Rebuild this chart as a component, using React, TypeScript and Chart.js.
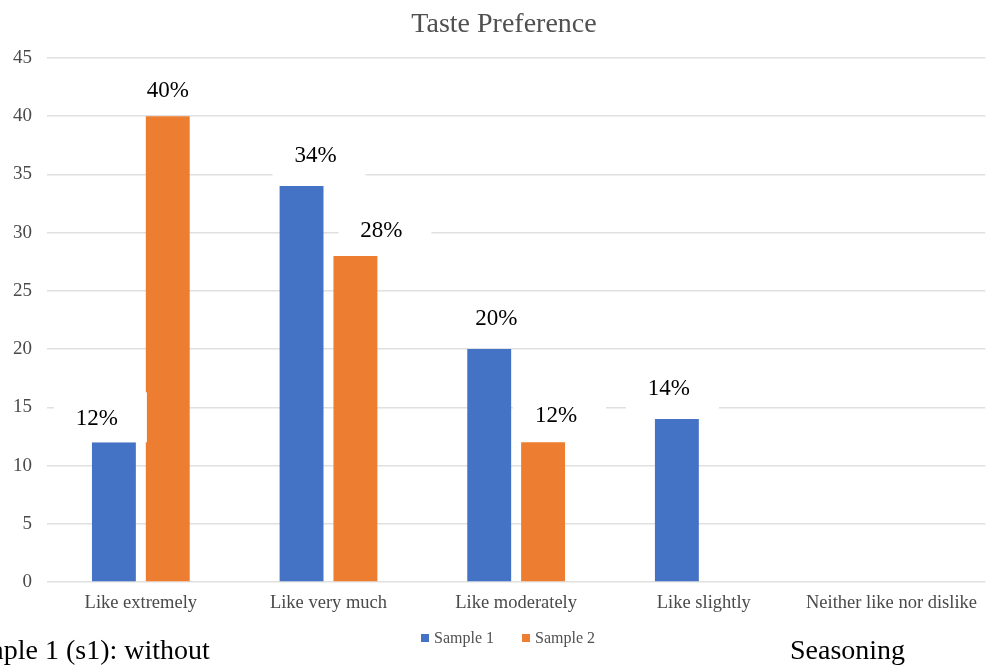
import React, { useEffect, useRef } from "react";
import { Chart, registerables } from "chart.js";

Chart.register(...registerables);

// Response categories on the hedonic scale
const categories = [
  "Like extremely",
  "Like very much",
  "Like moderately",
  "Like slightly",
  "Neither like nor dislike",
];

// Share of panelists (%) per category
const sample1 = [12, 34, 20, 14, 0];
const sample2 = [40, 28, 12, 0, 0];

const seriesNames = ["Sample 1", "Sample 2"];
const seriesColors = ["#4472C4", "#ED7D31"];

const chartTitle = "Taste Preference";
const yMax = 45;
const yStep = 5;

const SERIF = '"Liberation Serif", "Times New Roman", serif';

// Hand-placed label nudges (text centre relative to the bar's top centre)
const labelNudges = [
  [[-17, -24], [14, -31], [7, -31], [-8, -31], [0, -28]],
  [[0, -26], [26, -26], [13, -27], [0, -28], [0, -28]],
];

const decorPlugin = {
  id: "decor",
  afterDatasetsDraw(chart: any) {
    const ctx = chart.ctx as CanvasRenderingContext2D;
    ctx.save();
    // value labels in white boxes
    chart.data.datasets.forEach((ds: any, di: number) => {
      const meta = chart.getDatasetMeta(di);
      meta.data.forEach((bar: any, i: number) => {
        const v = ds.data[i];
        if (!v) return;
        const [dx, dy] = labelNudges[di][i];
        const cx = bar.x + dx;
        const cy = bar.y + dy;
        ctx.fillStyle = "#ffffff";
        ctx.fillRect(cx - 43, cy - 26, 93, 50);
        ctx.fillStyle = "#000000";
        ctx.font = `23px ${SERIF}`;
        ctx.textAlign = "center";
        ctx.textBaseline = "middle";
        ctx.fillText(`${v}%`, cx, cy + 1);
      });
    });
    ctx.restore();
  },
  afterDraw(chart: any) {
    const ctx = chart.ctx as CanvasRenderingContext2D;
    ctx.save();
    // title
    ctx.fillStyle = "#505050";
    ctx.font = `28px ${SERIF}`;
    ctx.textAlign = "center";
    ctx.textBaseline = "alphabetic";
    ctx.fillText(chartTitle, 504, 32);

    // legend
    ctx.font = `16px ${SERIF}`;
    ctx.textAlign = "left";
    const gap = 28;
    const sq = 8;
    const widths = chart.data.datasets.map(
      (ds: any) => sq + 5 + ctx.measureText(ds.label).width
    );
    const total = widths.reduce((a: number, b: number) => a + b, 0) + gap;
    let x = 508 - total / 2;
    chart.data.datasets.forEach((ds: any, i: number) => {
      ctx.fillStyle = ds.backgroundColor;
      ctx.fillRect(x, 634, sq, sq);
      ctx.fillStyle = "#505050";
      ctx.fillText(ds.label, x + sq + 5, 643);
      x += widths[i] + gap;
    });
    ctx.restore();
  },
};

export default function App() {
  const canvasRef = useRef<HTMLCanvasElement | null>(null);

  useEffect(() => {
    document.body.style.margin = "0";
    const canvas = canvasRef.current;
    if (!canvas) return;
    const chart = new Chart(canvas, {
      type: "bar",
      data: {
        labels: categories,
        datasets: [
          {
            label: seriesNames[0],
            data: sample1,
            backgroundColor: seriesColors[0],
            borderWidth: 0,
          },
          {
            label: seriesNames[1],
            data: sample2,
            backgroundColor: seriesColors[1],
            borderWidth: 0,
          },
        ],
      },
      options: {
        animation: false,
        responsive: false,
        maintainAspectRatio: false,
        layout: { padding: { top: 58, left: 0, right: 0, bottom: 0 } },
        datasets: {
          bar: { categoryPercentage: 0.574, barPercentage: 0.815 },
        },
        plugins: {
          legend: { display: false },
          title: { display: false },
          tooltip: { enabled: false },
        },
        scales: {
          x: {
            grid: { display: false, drawTicks: false },
            border: { display: false },
            ticks: {
              color: "#4a4a4a",
              font: { family: SERIF, size: 18.5 },
              padding: 10,
              maxRotation: 0,
              autoSkip: false,
            },
            afterFit(scale: any) {
              scale.height = 86;
            },
          },
          y: {
            min: 0,
            max: yMax,
            grid: { color: "#e0e0e0", lineWidth: 1.5, drawTicks: false },
            border: { display: false },
            ticks: {
              stepSize: yStep,
              color: "#4a4a4a",
              font: { family: SERIF, size: 19 },
              padding: 15,
            },
            afterFit(scale: any) {
              scale.width = 47;
            },
          },
        },
      },
      plugins: [decorPlugin],
    });
    return () => chart.destroy();
  }, []);

  const textStyle: React.CSSProperties = {
    position: "absolute",
    fontFamily: SERIF,
    fontSize: 28,
    lineHeight: "28px",
    color: "#000",
    whiteSpace: "nowrap",
    top: 636,
  };

  return (
    <div
      style={{
        position: "fixed",
        left: 0,
        top: 0,
        width: 987,
        height: 668,
        overflow: "hidden",
        background: "#fff",
      }}
    >
      <canvas ref={canvasRef} width={987} height={668} style={{ display: "block" }} />
      <div style={{ ...textStyle, left: -46 }}>Sample 1 (s1): without</div>
      <div style={{ ...textStyle, left: 790 }}>Seasoning</div>
    </div>
  );
}
